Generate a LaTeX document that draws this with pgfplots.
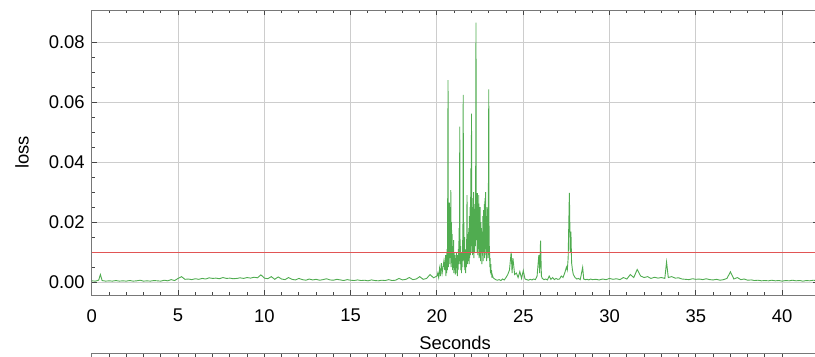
\documentclass[border=0pt]{standalone}
\usepackage{pgfplots}
\pgfplotsset{compat=1.18}
\usepackage{fontspec}
\setmainfont{Liberation Sans}
\definecolor{lossgreen}{RGB}{80,172,80}
\definecolor{threshred}{RGB}{225,85,85}
\definecolor{gridgray}{RGB}{205,205,205}
\definecolor{framegray}{RGB}{120,120,120}
\definecolor{tickgray}{RGB}{70,70,70}
\pgfplotsset{
  commonaxis/.style={
    scale only axis, width=363.1pt,
    xmin=0, xmax=42.1,
    xtick={0,5,10,15,20,25,30,35,40}, minor x tick num=4,
    axis line style={draw=framegray, line width=0.5pt},
    tick style={draw=tickgray, line width=0.5pt},
    major tick length=2.6pt, minor tick length=1.5pt,
    tick align=inside,
    /pgf/number format/assume math mode=true,
    every tick label/.append style={font=\fontsize{9.2}{11}\selectfont},
    label style={font=\fontsize{9.2}{11}\selectfont},
  }
}
\begin{document}
\begin{tikzpicture}
\begin{axis}[commonaxis,
  at={(0,0)}, anchor=south west,
  height=142.5pt,
  ymin=-0.0044, ymax=0.0909,
  ytick={0,0.02,0.04,0.06,0.08}, minor y tick num=3,
  scaled y ticks=false,
  yticklabel style={/pgf/number format/.cd, fixed, fixed zerofill, precision=2},
  xticklabel style={yshift=-3.5pt},
  grid=major, grid style={draw=gridgray, line width=0.5pt},
  xlabel={Seconds}, ylabel={loss},
  xlabel style={at={(axis description cs:0.5,-0.168)}, anchor=center},
  ylabel style={at={(axis description cs:-0.096,0.5)}, anchor=center},
]
\addplot[color=lossgreen, line width=0.45pt, sharp plot] table[row sep=\\] {
x y\\
0.0 0.0004\\ 0.2 0.0003\\ 0.4 0.0006\\ 0.5 0.0025\\ 0.6 0.0005\\ 0.8 0.0003\\
1.0 0.0004\\ 1.2 0.0003\\ 1.4 0.0005\\ 1.6 0.0003\\ 1.8 0.0004\\ 2.0 0.0003\\
2.2 0.0005\\ 2.4 0.0003\\ 2.6 0.0004\\ 2.8 0.0006\\ 3.0 0.0003\\ 3.2 0.0004\\
3.4 0.0003\\ 3.6 0.0005\\ 3.8 0.0004\\ 4.0 0.0003\\ 4.2 0.0006\\ 4.4 0.0004\\
4.6 0.0008\\ 4.8 0.0005\\ 5.0 0.0012\\ 5.2 0.0018\\ 5.4 0.0009\\ 5.6 0.0010\\
5.8 0.0008\\ 6.0 0.0011\\ 6.2 0.0009\\ 6.4 0.0012\\ 6.6 0.0010\\ 6.8 0.0014\\
7.0 0.0012\\ 7.2 0.0013\\ 7.4 0.0011\\ 7.6 0.0015\\ 7.8 0.0012\\ 8.0 0.0013\\
8.2 0.0011\\ 8.4 0.0012\\ 8.6 0.0014\\ 8.8 0.0012\\ 9.0 0.0015\\ 9.2 0.0013\\
9.4 0.0016\\ 9.6 0.0014\\ 9.8 0.0024\\ 10.0 0.0013\\ 10.2 0.0011\\ 10.4 0.0018\\
10.6 0.0009\\ 10.8 0.0017\\ 11.0 0.0010\\ 11.2 0.0008\\ 11.4 0.0015\\ 11.6 0.0009\\
11.8 0.0007\\ 12.0 0.0012\\ 12.2 0.0008\\ 12.4 0.0006\\ 12.6 0.0010\\ 12.8 0.0007\\
13.0 0.0009\\ 13.2 0.0006\\ 13.4 0.0008\\ 13.6 0.0011\\ 13.8 0.0007\\ 14.0 0.0006\\
14.2 0.0009\\ 14.4 0.0007\\ 14.6 0.0005\\ 14.8 0.0008\\ 15.0 0.0006\\ 15.2 0.0005\\
15.4 0.0007\\ 15.6 0.0005\\ 15.8 0.0006\\ 16.0 0.0004\\ 16.2 0.0007\\ 16.4 0.0005\\
16.6 0.0004\\ 16.8 0.0006\\ 17.0 0.0005\\ 17.2 0.0008\\ 17.4 0.0005\\ 17.6 0.0006\\
17.8 0.0012\\ 18.0 0.0007\\ 18.2 0.0009\\ 18.4 0.0015\\ 18.6 0.0008\\ 18.8 0.0010\\
19.0 0.0018\\ 19.2 0.0009\\ 19.4 0.0012\\ 19.6 0.0025\\ 19.8 0.0014\\ 20.0 0.0020\\
20.05 0.0030\\ 20.10 0.0015\\ 20.15 0.0045\\ 20.20 0.0020\\ 20.25 0.0063\\ 20.30 0.0030\\
20.35 0.0050\\ 20.40 0.0070\\ 20.45 0.0040\\
20.50 0.0090\\ 20.52 0.0020\\ 20.54 0.0075\\ 20.56 0.0030\\ 20.58 0.0110\\ 20.60 0.0040\\
20.62 0.0260\\ 20.64 0.0675\\ 20.66 0.0050\\ 20.68 0.0240\\ 20.70 0.0080\\ 20.72 0.0265\\
20.74 0.0060\\ 20.76 0.0220\\ 20.78 0.0090\\ 20.80 0.0307\\ 20.82 0.0050\\ 20.84 0.0200\\
20.86 0.0070\\ 20.88 0.0160\\ 20.90 0.0040\\ 20.92 0.0120\\ 20.94 0.0060\\ 20.96 0.0140\\
20.98 0.0030\\ 21.00 0.0100\\ 21.02 0.0040\\ 21.04 0.0090\\ 21.06 0.0025\\ 21.08 0.0080\\
21.10 0.0030\\ 21.12 0.0100\\ 21.14 0.0050\\ 21.16 0.0085\\ 21.18 0.0020\\ 21.20 0.0090\\
21.22 0.0040\\ 21.24 0.0110\\ 21.26 0.0060\\ 21.28 0.0180\\ 21.30 0.0070\\ 21.32 0.0519\\
21.34 0.0060\\ 21.36 0.0120\\ 21.38 0.0040\\ 21.40 0.0100\\ 21.42 0.0030\\ 21.44 0.0090\\
21.46 0.0050\\ 21.48 0.0140\\ 21.50 0.0070\\ 21.52 0.0625\\ 21.54 0.0080\\ 21.56 0.0200\\
21.58 0.0050\\ 21.60 0.0150\\ 21.62 0.0040\\ 21.64 0.0110\\ 21.66 0.0030\\ 21.68 0.0100\\
21.70 0.0050\\ 21.72 0.0130\\ 21.74 0.0290\\ 21.76 0.0060\\ 21.78 0.0160\\ 21.80 0.0120\\
21.82 0.0070\\ 21.84 0.0180\\ 21.86 0.0060\\ 21.88 0.0220\\ 21.90 0.0080\\ 21.92 0.0250\\
21.94 0.0090\\ 21.96 0.0380\\ 21.98 0.0100\\ 22.00 0.0563\\ 22.02 0.0120\\ 22.04 0.0280\\
22.06 0.0090\\ 22.08 0.0250\\ 22.10 0.0110\\ 22.12 0.0300\\ 22.14 0.0080\\ 22.16 0.0260\\
22.18 0.0100\\ 22.20 0.0220\\ 22.22 0.0120\\ 22.24 0.0300\\ 22.26 0.0867\\ 22.28 0.0140\\
22.30 0.0280\\ 22.32 0.0100\\ 22.34 0.0297\\ 22.36 0.0090\\ 22.38 0.0260\\ 22.40 0.0110\\
22.42 0.0290\\ 22.44 0.0080\\ 22.46 0.0220\\ 22.48 0.0120\\ 22.50 0.0250\\ 22.52 0.0070\\
22.54 0.0200\\ 22.56 0.0100\\ 22.58 0.0180\\ 22.60 0.0060\\ 22.62 0.0150\\ 22.64 0.0090\\
22.66 0.0220\\ 22.68 0.0070\\ 22.70 0.0240\\ 22.72 0.0100\\ 22.74 0.0260\\ 22.76 0.0080\\
22.78 0.0280\\ 22.80 0.0110\\ 22.82 0.0300\\ 22.84 0.0090\\ 22.86 0.0220\\ 22.88 0.0070\\
22.90 0.0250\\ 22.92 0.0100\\ 22.94 0.0180\\ 22.96 0.0080\\ 22.98 0.0300\\ 23.00 0.0644\\
23.02 0.0090\\ 23.04 0.0120\\ 23.06 0.0050\\ 23.08 0.0080\\ 23.10 0.0030\\ 23.12 0.0060\\
23.14 0.0025\\ 23.16 0.0040\\ 23.18 0.0015\\ 23.20 0.0025\\ 23.25 0.0015\\ 23.30 0.0012\\
23.40 0.0008\\
23.5 0.0006\\ 23.6 0.0008\\ 23.7 0.0005\\ 23.8 0.0010\\ 23.9 0.0007\\ 24.0 0.0015\\
24.1 0.0025\\ 24.2 0.0040\\ 24.3 0.0101\\ 24.35 0.0030\\ 24.4 0.0080\\ 24.5 0.0025\\
24.6 0.0030\\ 24.7 0.0015\\ 24.8 0.0035\\ 24.9 0.0012\\ 25.0 0.0038\\ 25.1 0.0010\\
25.2 0.0008\\ 25.3 0.0006\\ 25.4 0.0009\\ 25.5 0.0007\\ 25.6 0.0010\\ 25.7 0.0008\\
25.8 0.0020\\ 25.9 0.0090\\ 25.95 0.0030\\ 26.0 0.0138\\ 26.05 0.0020\\ 26.1 0.0012\\
26.2 0.0008\\ 26.3 0.0010\\ 26.4 0.0007\\ 26.5 0.0020\\ 26.6 0.0009\\ 26.7 0.0015\\
26.8 0.0008\\ 26.9 0.0012\\ 27.0 0.0009\\ 27.1 0.0010\\ 27.2 0.0020\\ 27.3 0.0015\\
27.4 0.0030\\ 27.5 0.0050\\ 27.55 0.0040\\ 27.6 0.0080\\ 27.67 0.0298\\ 27.72 0.0100\\
27.76 0.0168\\ 27.8 0.0064\\ 27.85 0.0040\\ 27.9 0.0025\\ 28.0 0.0015\\ 28.1 0.0010\\
28.2 0.0012\\ 28.3 0.0008\\ 28.44 0.0049\\ 28.5 0.0010\\ 28.6 0.0008\\ 28.7 0.0009\\
28.8 0.0007\\ 28.9 0.0010\\ 29.0 0.0008\\
29.2 0.0009\\ 29.4 0.0007\\ 29.6 0.0010\\ 29.8 0.0008\\ 30.0 0.0012\\ 30.2 0.0009\\
30.4 0.0011\\ 30.6 0.0008\\ 30.8 0.0015\\ 31.0 0.0010\\ 31.2 0.0025\\ 31.4 0.0015\\
31.6 0.0042\\ 31.8 0.0020\\ 32.0 0.0015\\ 32.2 0.0018\\ 32.4 0.0012\\ 32.6 0.0016\\
32.8 0.0013\\ 33.0 0.0015\\ 33.2 0.0012\\ 33.3 0.0067\\ 33.4 0.0015\\ 33.6 0.0018\\
33.8 0.0013\\ 34.0 0.0014\\ 34.2 0.0010\\ 34.4 0.0009\\ 34.6 0.0008\\ 34.8 0.0011\\
35.0 0.0009\\ 35.2 0.0010\\ 35.4 0.0008\\ 35.6 0.0011\\ 35.8 0.0008\\ 36.0 0.0007\\
36.2 0.0009\\ 36.4 0.0006\\ 36.6 0.0008\\ 36.8 0.0012\\ 37.0 0.0034\\ 37.2 0.0010\\
37.4 0.0015\\ 37.6 0.0008\\ 37.8 0.0010\\ 38.0 0.0006\\ 38.2 0.0007\\ 38.4 0.0005\\
38.6 0.0006\\ 38.8 0.0004\\ 39.0 0.0005\\ 39.2 0.0004\\ 39.4 0.0006\\ 39.6 0.0004\\
39.8 0.0005\\ 40.0 0.0003\\ 40.2 0.0005\\ 40.4 0.0004\\ 40.6 0.0006\\ 40.8 0.0004\\
41.0 0.0005\\ 41.2 0.0003\\ 41.4 0.0005\\ 41.6 0.0004\\ 41.8 0.0006\\ 42.0 0.0005\\
};
\addplot[color=threshred, line width=0.6pt] coordinates {(0,0.0098) (42.1,0.0098)};
\end{axis}
\begin{axis}[commonaxis,
  at={(0,-29.15pt)}, anchor=north west,
  height=100pt,
  ymin=0, ymax=1, ytick=\empty,
  xticklabels={},
]
\addplot[draw=none] coordinates {(0,0) (1,1)};
\end{axis}
\pgfresetboundingbox
\useasboundingbox (-45.85pt,-30.5pt) rectangle (361.38pt,147.5pt);
\end{tikzpicture}
\end{document}
